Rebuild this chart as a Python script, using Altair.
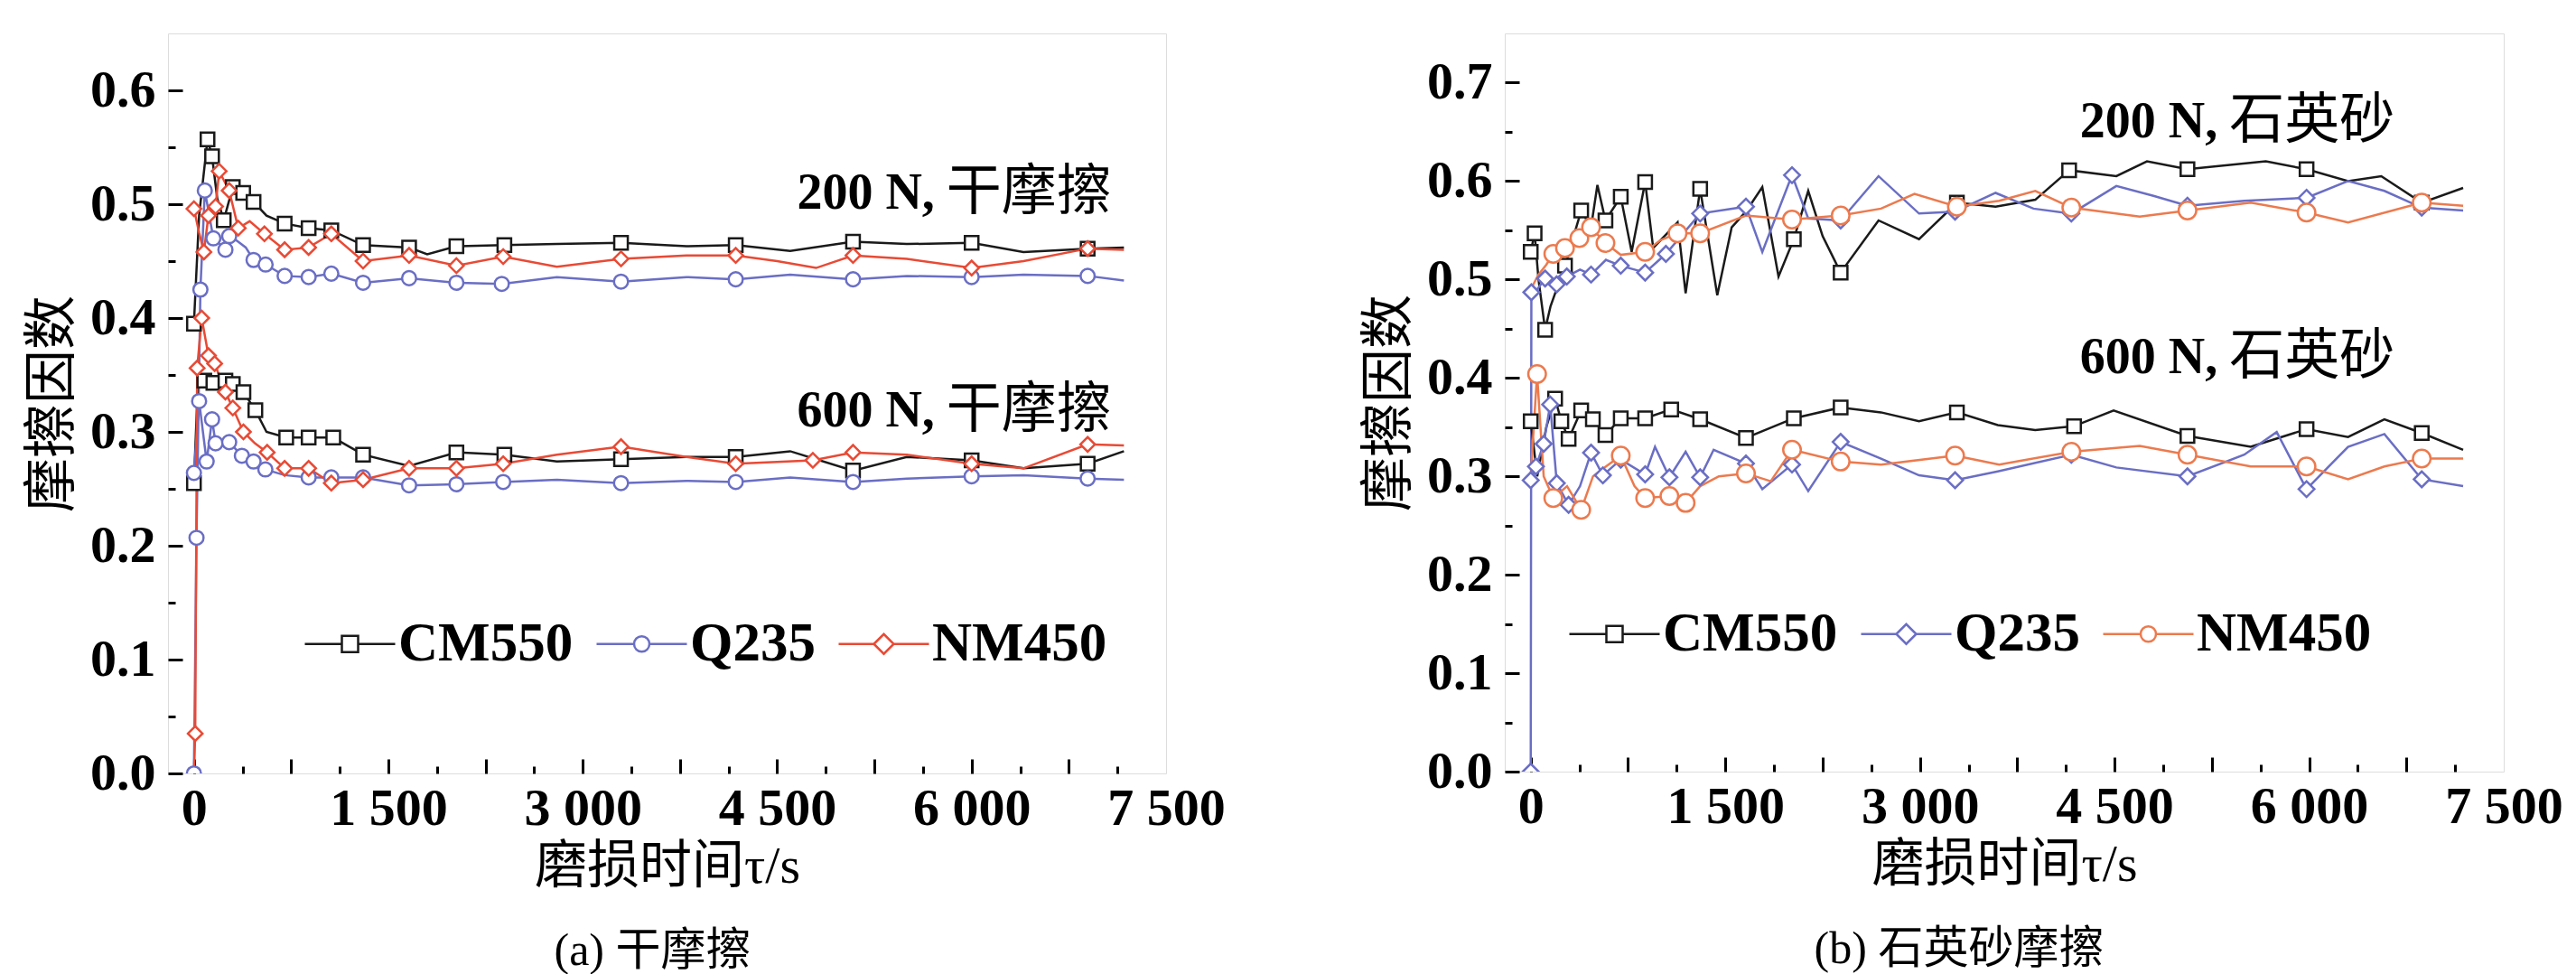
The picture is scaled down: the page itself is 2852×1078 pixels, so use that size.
import altair as alt
import pandas as pd

MATERIALS = ["CM550", "Q235", "NM450"]
SERIF = "Liberation Serif"
CJK = "Noto Sans CJK SC"
MIXED = "Liberation Serif, Noto Sans CJK SC"

# ---------------- Panel (a): dry friction ----------------
A200_CM550_x = [0, 40, 105, 140, 180, 230, 300, 380, 460, 560, 700, 885, 1060, 1305, 1660, 1800, 2025, 2395, 2800, 3295, 3800, 4180, 4600, 5085, 5500, 6000, 6400, 6895, 7175]
A200_CM550_y = [0.395, 0.49, 0.557, 0.542, 0.505, 0.486, 0.515, 0.51, 0.502, 0.49, 0.483, 0.479, 0.477, 0.464, 0.462, 0.456, 0.463, 0.464, 0.465, 0.466, 0.463, 0.464, 0.459, 0.467, 0.465, 0.466, 0.458, 0.461, 0.462]
A200_CM550_mk = [0, 105, 140, 230, 300, 380, 460, 700, 885, 1060, 1305, 1660, 2025, 2395, 3295, 4180, 5085, 6000, 6895]

A200_Q235_x = [0, 20, 50, 84, 150, 200, 243, 272, 330, 400, 460, 553, 700, 885, 1060, 1305, 1660, 2025, 2375, 2800, 3295, 3800, 4180, 4600, 5085, 5500, 6000, 6400, 6895, 7175]
A200_Q235_y = [0.0, 0.207, 0.425, 0.512, 0.47, 0.465, 0.46, 0.472, 0.468, 0.462, 0.451, 0.447, 0.437, 0.436, 0.439, 0.431, 0.435, 0.431, 0.430, 0.436, 0.432, 0.436, 0.434, 0.438, 0.434, 0.437, 0.436, 0.438, 0.437, 0.433]
A200_Q235_mk = [0, 20, 50, 84, 150, 243, 272, 460, 553, 700, 885, 1060, 1305, 1660, 2025, 2375, 3295, 4180, 5085, 6000, 6895]

A200_NM450_x = [0, 40, 77, 112, 167, 195, 272, 342, 430, 544, 700, 885, 1060, 1305, 1660, 2025, 2386, 2800, 3295, 3800, 4180, 4500, 4800, 5085, 5500, 6000, 6400, 6895, 7175]
A200_NM450_y = [0.496, 0.475, 0.458, 0.49, 0.498, 0.529, 0.512, 0.479, 0.485, 0.474, 0.46, 0.462, 0.474, 0.45, 0.455, 0.446, 0.454, 0.445, 0.452, 0.455, 0.455, 0.45, 0.444, 0.455, 0.452, 0.444, 0.45, 0.461, 0.46]
A200_NM450_mk = [0, 77, 112, 167, 195, 272, 342, 544, 700, 885, 1060, 1305, 1660, 2025, 2386, 3295, 4180, 5085, 6000, 6895]

A600_CM550_x = [0, 30, 80, 150, 243, 300, 382, 474, 560, 712, 885, 1075, 1305, 1660, 2025, 2395, 2800, 3295, 3800, 4180, 4600, 5085, 5500, 6000, 6400, 6895, 7175]
A600_CM550_y = [0.255, 0.34, 0.345, 0.343, 0.345, 0.342, 0.335, 0.319, 0.30, 0.295, 0.295, 0.295, 0.28, 0.27, 0.282, 0.28, 0.274, 0.276, 0.278, 0.278, 0.283, 0.266, 0.278, 0.275, 0.268, 0.272, 0.283]
A600_CM550_mk = [0, 80, 150, 243, 300, 382, 474, 712, 885, 1075, 1305, 2025, 2395, 3295, 4180, 5085, 6000, 6895]

A600_Q235_x = [0, 40, 98, 140, 167, 272, 370, 460, 551, 700, 885, 1060, 1305, 1660, 2025, 2386, 2800, 3295, 3800, 4180, 4600, 5085, 5500, 6000, 6400, 6895, 7175]
A600_Q235_y = [0.264, 0.327, 0.274, 0.311, 0.29, 0.291, 0.279, 0.274, 0.267, 0.262, 0.26, 0.26, 0.26, 0.253, 0.254, 0.256, 0.258, 0.255, 0.257, 0.256, 0.26, 0.256, 0.259, 0.261, 0.262, 0.259, 0.258]
A600_Q235_mk = [0, 40, 98, 140, 167, 272, 370, 460, 551, 885, 1060, 1305, 1660, 2025, 2386, 3295, 4180, 5085, 6000, 6895]

A600_NM450_x = [0, 10, 25, 60, 112, 160, 243, 300, 382, 470, 565, 700, 885, 1060, 1305, 1660, 2025, 2386, 2800, 3295, 3800, 4180, 4775, 5085, 5500, 6000, 6400, 6895, 7175]
A600_NM450_y = [0.0, 0.035, 0.356, 0.40, 0.367, 0.36, 0.335, 0.321, 0.30, 0.29, 0.282, 0.268, 0.268, 0.255, 0.258, 0.268, 0.268, 0.272, 0.28, 0.287, 0.278, 0.272, 0.275, 0.282, 0.28, 0.272, 0.268, 0.289, 0.288]
A600_NM450_mk = [10, 25, 60, 112, 160, 243, 300, 382, 565, 700, 885, 1060, 1305, 1660, 2025, 2386, 3295, 4180, 4775, 5085, 6000, 6895]

# ---------------- Panel (b): quartz sand ----------------
B200_CM550_x = [0, 30, 60, 111, 153, 264, 389, 465, 514, 576, 694, 778, 882, 944, 1132, 1194, 1306, 1438, 1549, 1659, 1785, 1910, 2028, 2139, 2250, 2389, 2681, 2993, 3285, 3583, 3889, 4150, 4514, 4750, 5062, 5666, 5980, 6300, 6556, 6868, 7187]
B200_CM550_y = [0.528, 0.547, 0.50, 0.449, 0.473, 0.514, 0.570, 0.553, 0.596, 0.56, 0.584, 0.528, 0.599, 0.532, 0.558, 0.486, 0.592, 0.484, 0.553, 0.569, 0.594, 0.503, 0.541, 0.59, 0.544, 0.507, 0.56, 0.541, 0.578, 0.574, 0.581, 0.611, 0.605, 0.62, 0.612, 0.62, 0.612, 0.60, 0.605, 0.578, 0.593]
B200_CM550_mk = [0, 30, 111, 264, 389, 576, 694, 882, 1306, 2028, 2389, 3285, 4150, 5062, 5980, 6868]

B200_Q235_x = [0, 5, 50, 111, 200, 278, 380, 465, 580, 694, 882, 1042, 1306, 1659, 1785, 2014, 2139, 2389, 2681, 2993, 3271, 3583, 3875, 4167, 4514, 4800, 5062, 5500, 5980, 6300, 6580, 6868, 7187]
B200_Q235_y = [0.0, 0.487, 0.49, 0.501, 0.495, 0.503, 0.51, 0.505, 0.52, 0.514, 0.507, 0.526, 0.567, 0.574, 0.528, 0.606, 0.562, 0.560, 0.605, 0.567, 0.569, 0.588, 0.572, 0.567, 0.595, 0.585, 0.575, 0.58, 0.583, 0.60, 0.59, 0.573, 0.57]
B200_Q235_mk = [0, 5, 111, 200, 278, 465, 694, 882, 1042, 1306, 1659, 2014, 2389, 3271, 4167, 5062, 5980, 6868]

B200_NM450_x = [0, 60, 120, 174, 264, 375, 465, 576, 694, 882, 1000, 1132, 1306, 1659, 2014, 2389, 2700, 2958, 3285, 3611, 3889, 4167, 4694, 5062, 5550, 5980, 6300, 6868, 7187]
B200_NM450_y = [0.49, 0.505, 0.515, 0.526, 0.532, 0.542, 0.553, 0.537, 0.525, 0.528, 0.54, 0.547, 0.547, 0.565, 0.561, 0.565, 0.572, 0.587, 0.574, 0.58, 0.59, 0.573, 0.564, 0.57, 0.578, 0.568, 0.558, 0.578, 0.575]
B200_NM450_mk = [174, 264, 375, 465, 576, 882, 1132, 1306, 2014, 2389, 3285, 4167, 5062, 5980, 6868]

B600_CM550_x = [0, 50, 120, 188, 236, 292, 389, 479, 576, 694, 882, 1083, 1306, 1659, 2028, 2389, 2700, 2993, 3285, 3600, 3889, 4188, 4493, 5062, 5550, 5980, 6300, 6580, 6868, 7187]
B600_CM550_y = [0.356, 0.30, 0.35, 0.379, 0.356, 0.338, 0.367, 0.358, 0.342, 0.359, 0.359, 0.368, 0.358, 0.339, 0.359, 0.37, 0.365, 0.356, 0.365, 0.352, 0.347, 0.351, 0.367, 0.341, 0.33, 0.348, 0.34, 0.358, 0.344, 0.327]
B600_CM550_mk = [0, 188, 236, 292, 389, 479, 576, 694, 882, 1083, 1306, 1659, 2028, 2389, 3285, 4188, 5062, 5980, 6868]

B600_Q235_x = [0, 40, 100, 150, 201, 292, 380, 465, 556, 694, 882, 958, 1069, 1194, 1306, 1410, 1659, 1785, 2014, 2139, 2389, 2700, 2993, 3271, 3600, 4167, 4514, 5062, 5500, 5750, 5980, 6300, 6580, 6868, 7187]
B600_Q235_y = [0.296, 0.31, 0.333, 0.373, 0.293, 0.271, 0.29, 0.324, 0.301, 0.317, 0.302, 0.33, 0.299, 0.325, 0.299, 0.327, 0.313, 0.287, 0.312, 0.285, 0.335, 0.318, 0.301, 0.296, 0.305, 0.322, 0.309, 0.30, 0.322, 0.345, 0.287, 0.33, 0.343, 0.297, 0.29]
B600_Q235_mk = [0, 40, 100, 150, 201, 292, 465, 556, 694, 882, 1069, 1306, 1659, 2014, 2389, 3271, 4167, 5062, 5980, 6868]

B600_NM450_x = [0, 49, 100, 174, 280, 389, 480, 580, 694, 800, 882, 1069, 1194, 1306, 1450, 1659, 1850, 2014, 2389, 2700, 3271, 3611, 4167, 4694, 5062, 5550, 5980, 6300, 6580, 6868, 7187]
B600_NM450_y = [0.30, 0.404, 0.30, 0.278, 0.29, 0.266, 0.30, 0.31, 0.321, 0.29, 0.278, 0.28, 0.273, 0.29, 0.30, 0.303, 0.295, 0.327, 0.315, 0.312, 0.321, 0.312, 0.325, 0.331, 0.322, 0.31, 0.31, 0.297, 0.31, 0.318, 0.318]
B600_NM450_mk = [49, 174, 389, 694, 882, 1069, 1194, 1659, 2014, 2389, 3271, 4167, 5062, 5980, 6868]

# annotations
A_ANN_NUM = ["200 N,", "600 N,"]
A_ANN_CJK = ["干摩擦", "干摩擦"]
A_ANN_T = [5750, 5750]
A_ANN_MU = [0.5095, 0.318]
B_ANN_NUM = ["200 N,", "600 N,"]
B_ANN_CJK = ["石英砂", "石英砂"]
B_ANN_T = [5330, 5330]
B_ANN_MU = [0.66, 0.42]

X_MAJOR = [0, 750, 1500, 2250, 3000, 3750, 4500, 5250, 6000, 6750]
X_MINOR = [375, 1125, 1875, 2625, 3375, 4125, 4875, 5625, 6375, 7125]
X_LABELS = [0, 1500, 3000, 4500, 6000, 7500]


def build(series):
    rows = []
    for load, mat, xs, ys, mk in series:
        mks = set(mk)
        for x, y in zip(xs, ys):
            rows.append({"load": load, "mat": mat, "t": x, "mu": y, "m": x in mks})
    return pd.DataFrame(rows)


dfA = build([
    ("200 N", "CM550", A200_CM550_x, A200_CM550_y, A200_CM550_mk),
    ("200 N", "Q235", A200_Q235_x, A200_Q235_y, A200_Q235_mk),
    ("200 N", "NM450", A200_NM450_x, A200_NM450_y, A200_NM450_mk),
    ("600 N", "CM550", A600_CM550_x, A600_CM550_y, A600_CM550_mk),
    ("600 N", "Q235", A600_Q235_x, A600_Q235_y, A600_Q235_mk),
    ("600 N", "NM450", A600_NM450_x, A600_NM450_y, A600_NM450_mk),
])
dfB = build([
    ("200 N", "CM550", B200_CM550_x, B200_CM550_y, B200_CM550_mk),
    ("200 N", "Q235", B200_Q235_x, B200_Q235_y, B200_Q235_mk),
    ("200 N", "NM450", B200_NM450_x, B200_NM450_y, B200_NM450_mk),
    ("600 N", "CM550", B600_CM550_x, B600_CM550_y, B600_CM550_mk),
    ("600 N", "Q235", B600_Q235_x, B600_Q235_y, B600_Q235_mk),
    ("600 N", "NM450", B600_NM450_x, B600_NM450_y, B600_NM450_mk),
])
annA = pd.DataFrame({"t": A_ANN_T, "mu": A_ANN_MU, "num": A_ANN_NUM, "cjk": A_ANN_CJK})
annB = pd.DataFrame({"t": B_ANN_T, "mu": B_ANN_MU, "num": B_ANN_NUM, "cjk": B_ANN_CJK})

P_SQ = "M-1,0H-0.18M0.18,0H1M-0.18,-0.18H0.18V0.18H-0.18Z"
P_CI = "M-1,0H-0.17M0.17,0H1M0.17,0A0.17,0.17,0,1,1,-0.17,0A0.17,0.17,0,1,1,0.17,0Z"
P_DI = "M-1,0H-0.22M0.22,0H1M-0.22,0L0,-0.22L0.22,0L0,0.22Z"


def panel(df, ann, W, H, ymax, ymajor, yminor, colors, shapes, sizes, paths,
          legx, legy, caption, cap_dx):
    xs = alt.Scale(domain=[-200, 7500], nice=False, zero=False)
    ys = alt.Scale(domain=[0, ymax], nice=False, zero=False)
    base = alt.Chart(df)

    lines = base.mark_line(strokeWidth=2.5, clip=True).encode(
        x=alt.X("t:Q", scale=xs, axis=alt.Axis(
            values=X_LABELS, labelExpr="replace(format(datum.value, ','), ',', ' ')",
            ticks=False, tickSize=0, domain=False, grid=False, labelFlush=False,
            labelOverlap=False, labelFont=SERIF, labelFontWeight="bold",
            labelFontSize=58, labelColor="black", labelPadding=10,
            title="磨损时间τ/s", titleFont=MIXED, titleFontSize=58,
            titleFontWeight="normal", titleColor="black", titlePadding=6)),
        y=alt.Y("mu:Q", scale=ys, axis=alt.Axis(
            values=ymajor, format=".1f", ticks=False, tickSize=0, domain=False,
            grid=False, labelOverlap=False, labelFont=SERIF, labelFontWeight="bold",
            labelFontSize=58, labelColor="black", labelPadding=14,
            title="摩擦因数", titleFont=CJK, titleFontSize=60,
            titleFontWeight="normal", titleColor="black", titlePadding=10)),
        color=alt.Color("mat:N", scale=alt.Scale(domain=MATERIALS, range=colors), legend=None),
        detail="load:N",
    )

    pts = base.transform_filter("datum.m").mark_point(
        filled=True, fill="white", strokeWidth=2.5, opacity=1, clip=True
    ).encode(
        x=alt.X("t:Q", scale=xs, axis=alt.Axis(
            orient="top", offset=-H, values=X_MAJOR, labels=False, ticks=True,
            tickSize=16, tickWidth=3, tickColor="black", domain=False, grid=False,
            title=None)),
        y=alt.Y("mu:Q", scale=ys, axis=alt.Axis(
            orient="right", offset=-W, values=ymajor, labels=False, ticks=True,
            tickSize=16, tickWidth=3, tickColor="black", domain=False, grid=False,
            title=None)),
        stroke=alt.Stroke("mat:N", scale=alt.Scale(domain=MATERIALS, range=colors), legend=None),
        shape=alt.Shape("mat:N", scale=alt.Scale(domain=MATERIALS, range=shapes), legend=None),
        size=alt.Size("mat:N", scale=alt.Scale(domain=MATERIALS, range=sizes), legend=None),
    )

    leg_params = dict(
        orient="none", legendX=legx, legendY=legy, direction="horizontal",
        title=None, labelFont=SERIF, labelFontWeight="bold", labelFontSize=61,
        labelColor="black", labelLimit=0, symbolSize=10000, symbolStrokeWidth=2.5,
        symbolOpacity=1, labelOffset=2, columnPadding=20, padding=0,
    )
    leg = base.mark_point(filled=False, opacity=0).encode(
        x=alt.X("t:Q", scale=xs, axis=alt.Axis(
            orient="top", offset=-H, values=X_MINOR, labels=False, ticks=True,
            tickSize=8, tickWidth=3, tickColor="black", domain=False, grid=False,
            title=None)),
        y=alt.Y("mu:Q", scale=ys, axis=alt.Axis(
            orient="right", offset=-W, values=yminor, labels=False, ticks=True,
            tickSize=8, tickWidth=3, tickColor="black", domain=False, grid=False,
            title=None)),
        color=alt.Color("mat:N", scale=alt.Scale(domain=MATERIALS, range=colors),
                        legend=alt.Legend(**leg_params)),
        shape=alt.Shape("mat:N", scale=alt.Scale(domain=MATERIALS, range=paths),
                        legend=alt.Legend(**leg_params)),
    )

    abase = alt.Chart(ann)
    t1 = abase.mark_text(align="right", baseline="middle", dx=-5, font=SERIF,
                         fontWeight="bold", fontSize=56, color="black").encode(
        x=alt.X("t:Q", scale=xs, axis=None), y=alt.Y("mu:Q", scale=ys, axis=None),
        text="num:N")
    t2 = abase.mark_text(align="left", baseline="middle", dx=8, font=CJK,
                         fontWeight="normal", fontSize=61, color="black").encode(
        x=alt.X("t:Q", scale=xs, axis=None), y=alt.Y("mu:Q", scale=ys, axis=None),
        text="cjk:N")

    return alt.layer(lines, pts, leg, t1, t2).resolve_scale(
        color="independent", shape="independent", stroke="independent", size="independent"
    ).resolve_axis(x="independent", y="independent").properties(
        width=W, height=H,
        title=alt.TitleParams(text=caption, orient="bottom", anchor="middle",
                              font=MIXED, fontSize=50, fontWeight="normal",
                              color="black", offset=40, dx=cap_dx),
    )


pA = panel(dfA, annA, 1105, 819, 0.65,
           [0, 0.1, 0.2, 0.3, 0.4, 0.5, 0.6],
           [0.05, 0.15, 0.25, 0.35, 0.45, 0.55],
           ["#1a1a1a", "#6a6ec4", "#e84a35"],
           ["square", "circle", "diamond"], [225, 260, 380],
           [P_SQ, P_CI, P_DI], 150, 624, "(a) 干摩擦", -16)
pB = panel(dfB, annB, 1106, 817, 0.75,
           [0, 0.1, 0.2, 0.3, 0.4, 0.5, 0.6, 0.7],
           [0.05, 0.15, 0.25, 0.35, 0.45, 0.55, 0.65],
           ["#1a1a1a", "#6a6ec4", "#ec7a4e"],
           ["square", "diamond", "circle"], [225, 380, 260],
           [P_SQ, P_DI, P_CI], 70, 613, "(b) 石英砂摩擦", -50)

chart = alt.HConcatChart(hconcat=[pA, pB], spacing=375, bounds="flush").properties(
    padding={"left": 20, "top": 28, "right": 5, "bottom": 5}
).configure_view(stroke="black", strokeWidth=3).configure(background="white")

chart.save("out.html", embed_options={"renderer": "svg", "actions": False})
